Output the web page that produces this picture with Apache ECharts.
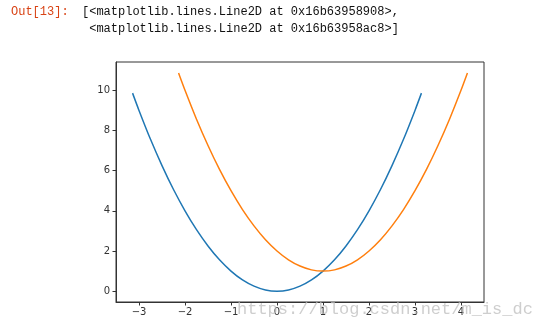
<!DOCTYPE html>
<html>
<head>
<meta charset="utf-8">
<script src="https://cdn.jsdelivr.net/npm/echarts@6/dist/echarts.min.js"></script>
<style>
html,body{margin:0;padding:0;background:#fff;}
#chart{width:549px;height:330px;}
</style>
</head>
<body>
<div id="chart"></div>
<script>
// Data
const blueX = [-3.14, -3, -2.75, -2.5, -2.25, -2, -1.75, -1.5, -1.25, -1, -0.75, -0.5, -0.25, 0, 0.25, 0.5, 0.75, 1, 1.25, 1.5, 1.75, 2, 2.25, 2.5, 2.75, 3, 3.14];
const blueY = [9.86, 9, 7.56, 6.25, 5.06, 4, 3.06, 2.25, 1.56, 1, 0.56, 0.25, 0.06, 0, 0.06, 0.25, 0.56, 1, 1.56, 2.25, 3.06, 4, 5.06, 6.25, 7.56, 9, 9.86];
const orangeX = [-2.14, -2, -1.75, -1.5, -1.25, -1, -0.75, -0.5, -0.25, 0, 0.25, 0.5, 0.75, 1, 1.25, 1.5, 1.75, 2, 2.25, 2.5, 2.75, 3, 3.25, 3.5, 3.75, 4, 4.14];
const orangeY = [10.86, 10, 8.56, 7.25, 6.06, 5, 4.06, 3.25, 2.56, 2, 1.56, 1.25, 1.06, 1, 1.06, 1.25, 1.56, 2, 2.56, 3.25, 4.06, 5, 6.06, 7.25, 8.56, 10, 10.86];
const xTicks = [-3, -2, -1, 0, 1, 2, 3, 4];
const yTicks = [0, 2, 4, 6, 8, 10];
const outLabel = 'Out[13]:';
const outLines = ['[<matplotlib.lines.Line2D at 0x16b63958908>,', ' <matplotlib.lines.Line2D at 0x16b63958ac8>]'];
const watermark = 'https://blog.csdn.net/m_is_dc';

const zip = (xs, ys) => xs.map((x, i) => [x, ys[i]]);
const fmt = v => String(v).replace('-', '\u2212');

const chart = echarts.init(document.getElementById('chart'), null, {renderer: 'canvas'});
const axisLabelStyle = {color: '#333', fontSize: 10, fontFamily: 'DejaVu Sans'};
chart.setOption({
  animation: false,
  backgroundColor: '#fff',
  grid: {left: 116, top: 62, right: 65, bottom: 28, show: true, borderColor: '#333', borderWidth: 1, backgroundColor: 'transparent'},
  xAxis: {
    type: 'value', min: -3.5, max: 4.5,
    axisLine: {show: true, onZero: false, lineStyle: {color: '#333', width: 1}},
    axisTick: {show: true, length: 3.5, customValues: xTicks, lineStyle: {color: '#333'}},
    axisLabel: Object.assign({customValues: xTicks, formatter: fmt, margin: 5}, axisLabelStyle),
    splitLine: {show: false}
  },
  yAxis: {
    type: 'value', min: -0.54, max: 11.41,
    axisLine: {show: true, onZero: false, lineStyle: {color: '#333', width: 1}},
    axisTick: {show: true, length: 3.5, customValues: yTicks, lineStyle: {color: '#333'}},
    axisLabel: Object.assign({customValues: yTicks, formatter: fmt, margin: 6}, axisLabelStyle),
    splitLine: {show: false}
  },
  series: [
    {type: 'line', data: zip(blueX, blueY), smooth: 0.3, showSymbol: false, lineStyle: {color: '#1f77b4', width: 1.5}, itemStyle: {color: '#1f77b4'}},
    {type: 'line', data: zip(orangeX, orangeY), smooth: 0.3, showSymbol: false, lineStyle: {color: '#ff7f0e', width: 1.5}, itemStyle: {color: '#ff7f0e'}}
  ],
  graphic: [
    {type: 'text', left: 11, top: 6, style: {text: outLabel, fill: '#D84315', font: '12px "Liberation Mono"'}},
    {type: 'text', left: 82, top: 6, style: {text: outLines[0], fill: '#111', font: '12px "Liberation Mono"'}},
    {type: 'text', left: 82, top: 23, style: {text: outLines[1], fill: '#111', font: '12px "Liberation Mono"'}},
    {type: 'text', left: 237, top: 301, z: 100, style: {text: watermark, fill: 'rgba(190,190,190,0.75)', font: '17px "Liberation Mono"'}}
  ]
});
</script>
</body>
</html>
